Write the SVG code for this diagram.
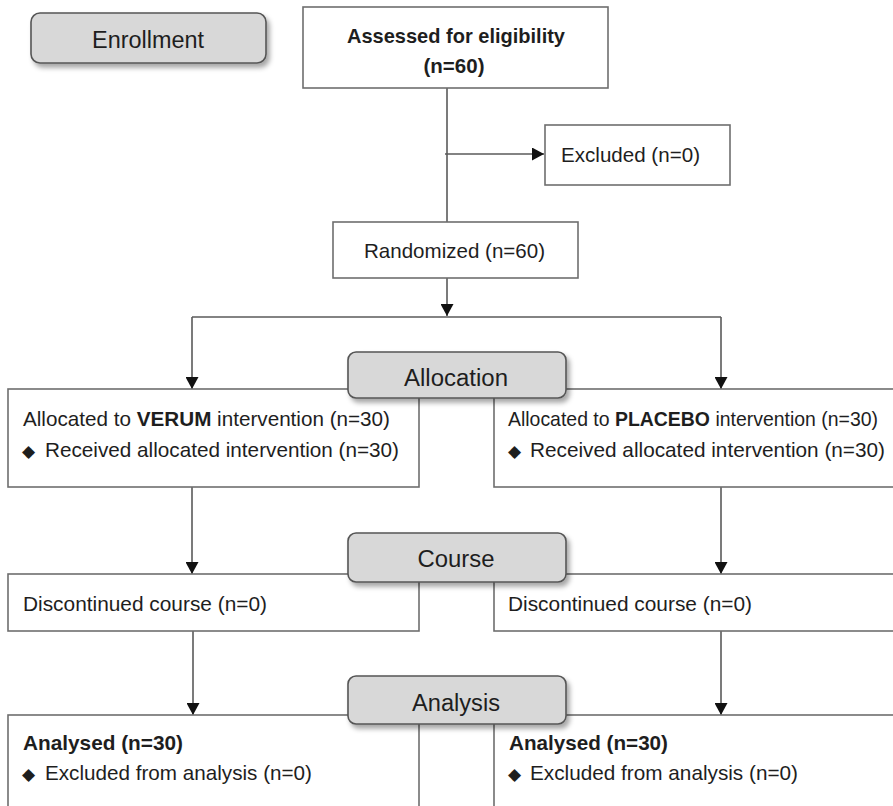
<svg xmlns="http://www.w3.org/2000/svg" width="893" height="806" viewBox="0 0 893 806">
<style>
.box{fill:#fff;stroke:#6e6e6e;stroke-width:1.6}
.lbl{fill:#d8d8d8;stroke:#555;stroke-width:1.6}
.t{font-family:"Liberation Sans",Arial,sans-serif;font-size:21px;fill:#1e1e1e}
.lt{font-family:"Liberation Sans",Arial,sans-serif;font-size:23px;fill:#1e1e1e;text-anchor:middle}
.b{font-weight:bold}
.dm{font-family:"DejaVu Sans",sans-serif;font-size:17px}
.ln{stroke:#5a5a5a;stroke-width:1.6;fill:none}
</style>
<defs>
<marker id="ah" markerUnits="userSpaceOnUse" markerWidth="13" markerHeight="13" refX="12" refY="6.5" orient="auto">
<path d="M0,0 L12,6.5 L0,13 z" fill="#111"/>
</marker>
<filter id="sh" x="-10%" y="-20%" width="130%" height="160%">
<feDropShadow dx="3" dy="4" stdDeviation="2.5" flood-color="#000" flood-opacity="0.35"/>
</filter>
</defs>

<g id="connectors">
<line class="ln" x1="447" y1="88" x2="447" y2="222"/>
<line class="ln" x1="445" y1="154" x2="544" y2="154" marker-end="url(#ah)"/>
<line class="ln" x1="447" y1="278" x2="447" y2="316" marker-end="url(#ah)"/>
<line class="ln" x1="192" y1="317" x2="721" y2="317"/>
<line class="ln" x1="192" y1="317" x2="192" y2="389" marker-end="url(#ah)"/>
<line class="ln" x1="721" y1="317" x2="721" y2="389" marker-end="url(#ah)"/>
<line class="ln" x1="192" y1="487" x2="192" y2="574" marker-end="url(#ah)"/>
<line class="ln" x1="721" y1="487" x2="721" y2="574" marker-end="url(#ah)"/>
<line class="ln" x1="193" y1="631" x2="193" y2="715" marker-end="url(#ah)"/>
<line class="ln" x1="721" y1="631" x2="721" y2="715" marker-end="url(#ah)"/>
</g>

<g id="enrollment">
<rect class="lbl" x="31" y="13" width="235" height="50" rx="9" filter="url(#sh)"/>
<text class="lt" x="148" y="48" textLength="112" lengthAdjust="spacingAndGlyphs">Enrollment</text>
</g>

<g id="assessed">
<rect class="box" x="303" y="7" width="305" height="81"/>
<text class="t b" x="456" y="43" text-anchor="middle" textLength="218" lengthAdjust="spacingAndGlyphs">Assessed for eligibility</text>
<text class="t b" x="454" y="73" text-anchor="middle" textLength="61" lengthAdjust="spacingAndGlyphs">(n=60)</text>
</g>

<g id="excluded">
<rect class="box" x="545" y="125" width="185" height="60"/>
<text class="t" x="561" y="162" textLength="139" lengthAdjust="spacingAndGlyphs">Excluded (n=0)</text>
</g>

<g id="randomized">
<rect class="box" x="333" y="222" width="245" height="56"/>
<text class="t" x="364" y="258" textLength="181" lengthAdjust="spacingAndGlyphs">Randomized (n=60)</text>
</g>

<g id="alloc-verum">
<rect class="box" x="8" y="389" width="411" height="98"/>
<text class="t" x="23" y="426" textLength="367" lengthAdjust="spacingAndGlyphs">Allocated to <tspan class="b">VERUM</tspan> intervention (n=30)</text>
<text class="t" x="22" y="457"><tspan class="dm">◆</tspan></text>
<text class="t" x="45" y="457" textLength="354" lengthAdjust="spacingAndGlyphs">Received allocated intervention (n=30)</text>
</g>

<g id="alloc-placebo">
<rect class="box" x="494" y="389" width="420" height="98"/>
<text class="t" x="508" y="426" textLength="370" lengthAdjust="spacingAndGlyphs">Allocated to <tspan class="b">PLACEBO</tspan> intervention (n=30)</text>
<text class="t" x="508" y="457"><tspan class="dm">◆</tspan></text>
<text class="t" x="530" y="457" textLength="355" lengthAdjust="spacingAndGlyphs">Received allocated intervention (n=30)</text>
</g>

<g id="allocation">
<rect class="lbl" x="348" y="352" width="218" height="46" rx="8" filter="url(#sh)"/>
<text class="lt" x="456" y="386" textLength="104" lengthAdjust="spacingAndGlyphs">Allocation</text>
</g>

<g id="disc-verum">
<rect class="box" x="8" y="574" width="411" height="57"/>
<text class="t" x="23" y="611" textLength="244" lengthAdjust="spacingAndGlyphs">Discontinued course (n=0)</text>
</g>

<g id="disc-placebo">
<rect class="box" x="494" y="574" width="420" height="57"/>
<text class="t" x="508" y="611" textLength="244" lengthAdjust="spacingAndGlyphs">Discontinued course (n=0)</text>
</g>

<g id="course">
<rect class="lbl" x="348" y="533" width="218" height="49" rx="8" filter="url(#sh)"/>
<text class="lt" x="456" y="567" textLength="77" lengthAdjust="spacingAndGlyphs">Course</text>
</g>

<g id="analysed-verum">
<rect class="box" x="8" y="715" width="411" height="120"/>
<text class="t b" x="23" y="750" textLength="160" lengthAdjust="spacingAndGlyphs">Analysed  (n=30)</text>
<text class="t" x="22" y="780"><tspan class="dm">◆</tspan></text>
<text class="t" x="45" y="780" textLength="267" lengthAdjust="spacingAndGlyphs">Excluded from analysis (n=0)</text>
</g>

<g id="analysed-placebo">
<rect class="box" x="494" y="715" width="420" height="120"/>
<text class="t b" x="509" y="750" textLength="159" lengthAdjust="spacingAndGlyphs">Analysed  (n=30)</text>
<text class="t" x="508" y="780"><tspan class="dm">◆</tspan></text>
<text class="t" x="530" y="780" textLength="268" lengthAdjust="spacingAndGlyphs">Excluded from analysis (n=0)</text>
</g>

<g id="analysis">
<rect class="lbl" x="348" y="676" width="218" height="48" rx="8" filter="url(#sh)"/>
<text class="lt" x="456" y="711" textLength="88" lengthAdjust="spacingAndGlyphs">Analysis</text>
</g>
</svg>
